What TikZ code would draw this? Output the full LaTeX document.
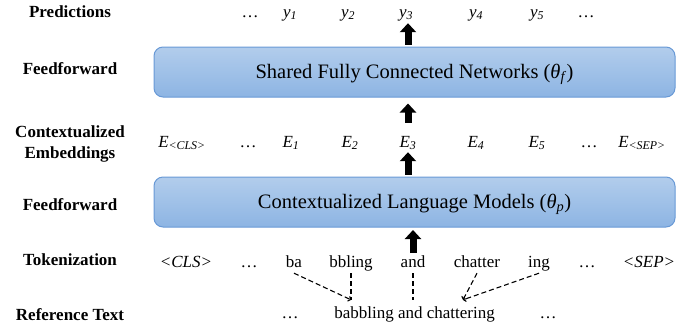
\documentclass[tikz,border=0pt]{standalone}
\usepackage{fontspec}
\setmainfont{Liberation Serif}
\usetikzlibrary{arrows.meta,calc}

\definecolor{boxtop}{RGB}{178,205,236}
\definecolor{boxbottom}{RGB}{141,180,227}
\definecolor{boxline}{RGB}{104,153,214}

\newcommand{\itsub}[2]{\textit{#1}\textsubscript{\textit{#2}}}

\begin{document}
\begin{tikzpicture}[
		x=1pt, y=-1pt,
		rowlabel/.style={
				font=\fontsize{17}{21}\selectfont\bfseries,
				align=center,
				anchor=base,
				inner sep=0pt
			},
		token/.style={
				font=\fontsize{17}{21}\selectfont,
				anchor=base,
				inner sep=2pt,
				text depth=4pt
			},
		embed/.style={token, inner sep=0pt},
		netbox/.style={
				draw=boxline,
				line width=1pt,
				rounded corners=9pt,
				top color=boxtop,
				bottom color=boxbottom,
				minimum width=521pt,
				minimum height=50pt,
				font=\fontsize{20.5}{24}\selectfont,
				text height=15pt,
				text depth=3pt
			},
		blockarrow/.style={line width=7pt, -{Triangle[width=16pt,length=9pt]}},
		split/.style={dash pattern=on 5pt off 3pt, line width=1.1pt},
		splitarrow/.style={split, -{To[length=3pt,width=6pt]}}
	]
	\useasboundingbox (0,0) rectangle (699,333);

	% libellés des lignes
	\node[rowlabel] (lblPred) at (70,17) {Predictions};
	\node[rowlabel] (lblFFa) at (70,74) {Feedforward};
	\node[rowlabel] (lblEmb) at (70,158) {Contextualized\\Embeddings};
	\node[rowlabel] (lblFFb) at (70,210) {Feedforward};
	\node[rowlabel] (lblTok) at (70,265) {Tokenization};
	\node[rowlabel] (lblRef) at (70,320) {Reference Text};

	\node[netbox] (fcn) at (414.5,72) {Shared Fully Connected Networks (\itsub{θ}{f})};
	\node[netbox] (clm) at (414.5,202) {Contextualized Language Models (\itsub{θ}{p})};

	\node[token] (ydotsa) at (250,17) {…};
	\node[token] (y1) at (290,17) {\itsub{y}{1}};
	\node[token] (y2) at (348,17) {\itsub{y}{2}};
	\node[token] (y3) at (406,17) {\itsub{y}{3}};
	\node[token] (y4) at (476,17) {\itsub{y}{4}};
	\node[token] (y5) at (537,17) {\itsub{y}{5}};
	\node[token] (ydotsb) at (586,17) {…};

	\node[embed] (Ecls) at (182,147) {\itsub{E}{<CLS>}};
	\node[embed] (Edotsa) at (248,147) {…};
	\node[embed] (E1) at (291,147) {\itsub{E}{1}};
	\node[embed] (E2) at (350,147) {\itsub{E}{2}};
	\node[embed] (E3) at (408,147) {\itsub{E}{3}};
	\node[embed] (E4) at (476,147) {\itsub{E}{4}};
	\node[embed] (E5) at (537,147) {\itsub{E}{5}};
	\node[embed] (Edotsb) at (589,147) {…};
	\node[embed] (Esep) at (642,147) {\itsub{E}{<SEP>}};

	\node[token] (cls) at (186,267) {\textit{<CLS>}};
	\node[token] (tdotsa) at (249,267) {…};
	\node[token] (ba) at (294,267) {ba};
	\node[token] (bbling) at (351,267) {bbling};
	\node[token] (and) at (413,267) {and};
	\node[token] (chatter) at (477,267) {chatter};
	\node[token] (ing) at (539,267) {ing};
	\node[token] (tdotsb) at (587,267) {…};
	\node[token] (sep) at (649,267) {\textit{<SEP>}};

	\node[token] (rdotsa) at (290,318) {…};
	\node[token, text height=12pt, inner ysep=6pt] (reftext) at (414.5,318) {babbling and chattering};
	\node[token] (rdotsb) at (548,318) {…};

	\coordinate (tgtA) at (bbling |- reftext.north);
	\coordinate (tgtB) at (and |- reftext.north);
	\coordinate (tgtC) at ($(chatter |- reftext.north)+(-14,0)$);

	\draw[blockarrow, shorten <=2pt] (fcn.north -| E3) -- (y3.south -| E3);
	\draw[blockarrow, shorten <=13pt, shorten >=6pt] (E3.north) -- (fcn.south -| E3);
	\draw[blockarrow, shorten <=2pt, shorten >=1pt] (clm.north -| E3) -- (E3.south);
	\draw[blockarrow, shorten >=2.5pt] (and.north) -- (clm.south -| and);

	\draw[splitarrow] (ba.south) -- (tgtA);
	\draw[split] (bbling.south) -- (tgtA);
	\draw[split] (and.south) -- (tgtB);
	\draw[splitarrow] (chatter.south) -- (tgtC);
	\draw[splitarrow] (ing.south) -- (tgtC);
\end{tikzpicture}
\end{document}
